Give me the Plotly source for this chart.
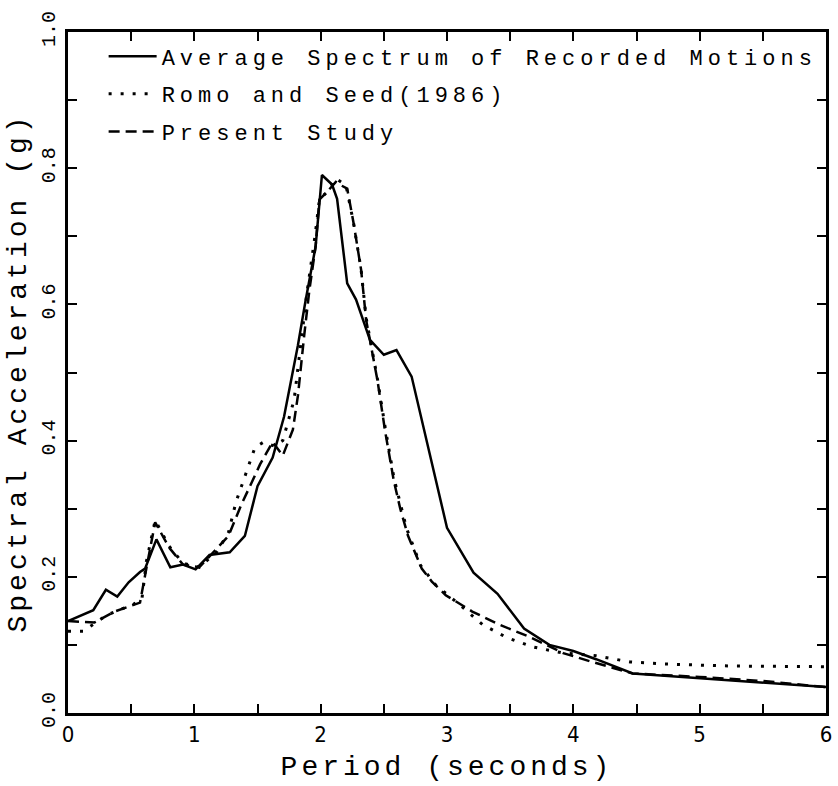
import plotly.graph_objects as go

# ---- data ----
avg_x = [0, 0.2, 0.3, 0.39, 0.48, 0.57, 0.61, 0.70, 0.81, 0.91, 1.01, 1.12, 1.28, 1.40, 1.50,
         1.62, 1.71, 1.82, 1.88, 1.96, 2.01, 2.09, 2.13, 2.21, 2.28, 2.39, 2.50, 2.60, 2.72,
         2.93, 3.0, 3.21, 3.40, 3.61, 3.81, 4.0, 4.18, 4.47, 5.0, 5.5, 6.0]
avg_y = [0.135, 0.151, 0.181, 0.171, 0.192, 0.207, 0.212, 0.255, 0.214, 0.218, 0.211, 0.232,
         0.236, 0.26, 0.333, 0.375, 0.435, 0.54, 0.605, 0.685, 0.79, 0.776, 0.755, 0.631,
         0.607, 0.548, 0.526, 0.533, 0.494, 0.33, 0.272, 0.206, 0.175, 0.124, 0.10, 0.091,
         0.079, 0.058, 0.051, 0.045, 0.038]

romo_x = [0, 0.12, 0.31, 0.52, 0.585, 0.62, 0.69, 0.80, 0.91, 1.04, 1.18, 1.27, 1.33, 1.42,
          1.48, 1.55, 1.63, 1.70, 1.79, 1.89, 1.955, 1.99, 2.05, 2.12, 2.2, 2.26, 2.32, 2.36,
          2.41, 2.45, 2.51, 2.58, 2.68, 2.79, 2.91, 3.10, 3.28, 3.47, 3.68, 3.92, 4.18, 4.45,
          4.71, 5.24, 6.0]
romo_y = [0.12, 0.12, 0.144, 0.16, 0.167, 0.222, 0.283, 0.245, 0.22, 0.214, 0.237, 0.265,
          0.31, 0.36, 0.39, 0.398, 0.392, 0.40, 0.46, 0.615, 0.70, 0.754, 0.765, 0.785, 0.775,
          0.72, 0.651, 0.58, 0.53, 0.49, 0.42, 0.345, 0.271, 0.217, 0.188, 0.159, 0.13,
          0.111, 0.097, 0.088, 0.084, 0.075, 0.072, 0.069, 0.068]

study_x = [0, 0.21, 0.37, 0.57, 0.63, 0.69, 0.80, 0.91, 1.04, 1.12, 1.27, 1.37, 1.52, 1.62,
           1.70, 1.78, 1.82, 1.87, 1.91, 1.96, 1.99, 2.05, 2.12, 2.16, 2.21, 2.26, 2.32, 2.36,
           2.41, 2.45, 2.51, 2.58, 2.63, 2.69, 2.80, 2.88, 2.99, 3.2, 3.41, 3.65, 3.92, 4.13,
           4.47, 5.0, 5.5, 6.0]
study_y = [0.135, 0.133, 0.149, 0.162, 0.222, 0.28, 0.243, 0.218, 0.214, 0.23, 0.26, 0.305,
           0.365, 0.398, 0.378, 0.416, 0.466, 0.555, 0.62, 0.685, 0.754, 0.765, 0.78, 0.775,
           0.77, 0.72, 0.651, 0.577, 0.528, 0.488, 0.414, 0.34, 0.30, 0.261, 0.212, 0.193,
           0.173, 0.149, 0.13, 0.112, 0.088, 0.076, 0.058, 0.053, 0.047, 0.038]

names = ["Average Spectrum of Recorded Motions", "Romo and Seed(1986)", "Present Study"]

MONO = "Liberation Mono, Courier New, monospace"


def spaced(t, px):
    return '<span style="letter-spacing:%dpx">%s</span>' % (px, t)


fig = go.Figure()
fig.add_trace(go.Scatter(x=avg_x, y=avg_y, mode="lines", name=spaced(names[0], 5),
                         legendgroup="a", line=dict(color="black", width=2.5)))
fig.add_trace(go.Scatter(x=romo_x, y=romo_y, mode="lines", name=spaced(names[1], 5),
                         legendgroup="b", line=dict(color="black", width=3, dash="3px,9px")))
fig.add_trace(go.Scatter(x=study_x, y=study_y, mode="lines", name=spaced(names[2], 5),
                         legendgroup="c", line=dict(color="black", width=2.5, dash="11px,6px")))

axis_common = dict(showline=True, linecolor="black", linewidth=2.5, mirror="ticks",
                   ticks="inside", ticklen=9, tickwidth=2, tickcolor="black",
                   showgrid=False, zeroline=False)

fig.update_layout(
    width=838, height=786,
    margin=dict(l=68, r=6, t=32, b=73),
    paper_bgcolor="white", plot_bgcolor="white",
    showlegend=True,
    legend=dict(x=0.047, y=0.995, xanchor="left", yanchor="top", bgcolor="rgba(0,0,0,0)",
                font=dict(family=MONO, size=22, color="black"),
                traceorder="grouped", tracegroupgap=6, itemwidth=48),
    xaxis=dict(range=[0, 6], dtick=1, tick0=0,
               tickfont=dict(family="Liberation Sans Narrow, DejaVu Sans Condensed, sans-serif",
                             size=22, color="black"),
               minor=dict(dtick=0.5, ticks="inside", ticklen=9, tickwidth=2,
                          tickcolor="black", showgrid=False),
               title=dict(text=spaced("Period (seconds)", 4),
                          font=dict(family=MONO, size=28, color="black"), standoff=10),
               **axis_common),
    yaxis=dict(range=[0, 1.0], dtick=0.2, tick0=0, tickformat=".1f", tickangle=-90,
               tickfont=dict(family=MONO, size=20, color="black"),
               ticklabelstandoff=2,
               minor=dict(dtick=0.1, ticks="inside", ticklen=9, tickwidth=2,
                          tickcolor="black", showgrid=False),
               title=dict(text=spaced("Spectral Acceleration (g)", 4),
                          font=dict(family=MONO, size=28, color="black"), standoff=4),
               **axis_common),
)

fig.write_html("out.html")
